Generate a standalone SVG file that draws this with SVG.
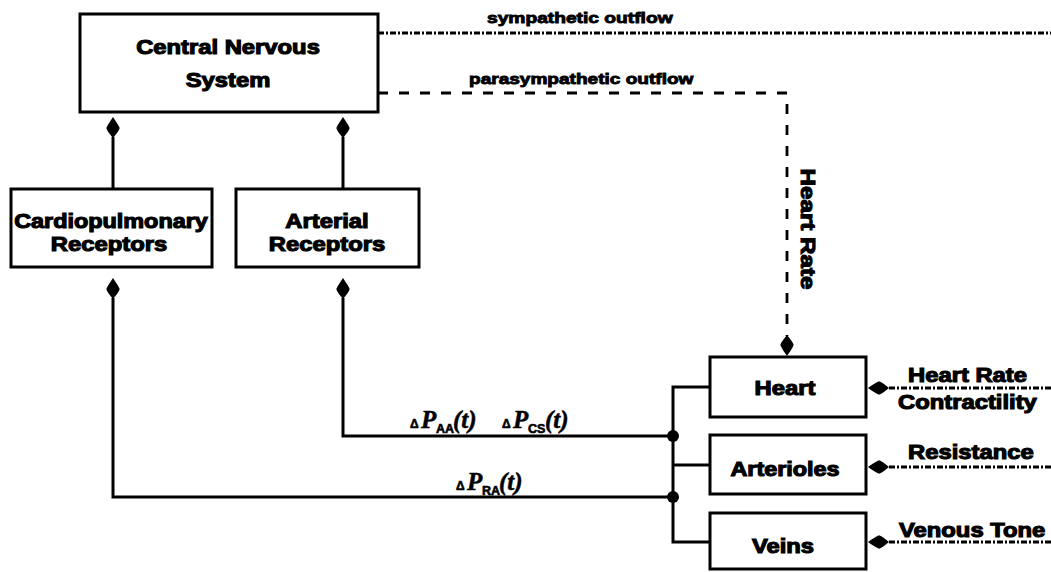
<svg xmlns="http://www.w3.org/2000/svg" width="1051" height="572" viewBox="0 0 1051 572">
<style>
.box{fill:#fff;stroke:#000;stroke-width:3}
.lbl{font-family:"Liberation Sans",Arial,sans-serif;font-weight:bold;font-size:19.5px;fill:#000;stroke:#000;stroke-width:1.1}
.sm{font-family:"Liberation Sans",Arial,sans-serif;font-weight:bold;font-size:15.5px;fill:#000;stroke:#000;stroke-width:0.9}
.wire{fill:none;stroke:#000;stroke-width:3}
.dash{fill:none;stroke:#000;stroke-width:2.8;stroke-dasharray:10 11}
.dashdot{fill:none;stroke:#000;stroke-width:2.8;stroke-dasharray:6 2 2 2}
.delta{font-family:"Liberation Sans",Arial,sans-serif;font-weight:bold;font-size:12px;stroke:#000;stroke-width:0.6}
.pi{font-family:"Liberation Serif","Times New Roman",serif;font-style:italic;font-weight:bold;font-size:25px;stroke:#000;stroke-width:0.5}
.sub{font-family:"Liberation Sans",Arial,sans-serif;font-weight:bold;font-size:12.5px;stroke:#000;stroke-width:0.6}
</style>
<defs>
<marker id="arr" markerUnits="userSpaceOnUse" markerWidth="20" markerHeight="14" viewBox="0 0 20 14" refX="0" refY="7" orient="auto" overflow="visible">
<path d="M-1,7 C3,4 6,1 9,0.3 C13,2 17,5 20,7 C17,9 13,12 9,13.7 C6,13 3,10 -1,7 Z" fill="#000"/>
</marker>
</defs>
<rect width="1051" height="572" fill="#fff"/>

<g id="connectors">
<path class="wire" d="M113,189 V137" marker-end="url(#arr)"/>
<path class="wire" d="M343,189 V137" marker-end="url(#arr)"/>
<path class="wire" d="M673,497 H113 V298" marker-end="url(#arr)"/>
<path class="wire" d="M673,436 H343 V298" marker-end="url(#arr)"/>
<path class="wire" d="M710,387 H673 V542 H710 M673,465 H710"/>
<circle cx="673" cy="436" r="6" fill="#000"/>
<circle cx="673" cy="497" r="6" fill="#000"/>
<path class="dashdot" d="M378,33 H1051"/>
<path class="dash" d="M378,93 H787 V336" marker-end="url(#arr)"/>
<path class="dashdot" d="M1051,388 H888" marker-end="url(#arr)"/>
<path class="dashdot" d="M1051,467 H888" marker-end="url(#arr)"/>
<path class="dashdot" d="M1051,542 H888" marker-end="url(#arr)"/>
<text class="sm" transform="translate(487,23) scale(1.24,1)">sympathetic outflow</text>
<text class="sm" transform="translate(469,84) scale(1.23,1)">parasympathetic outflow</text>
<text class="lbl" transform="translate(801,229) rotate(90) scale(1.24,1)" text-anchor="middle">Heart Rate</text>
<text class="lbl" transform="translate(908,382) scale(1.22,1)">Heart Rate</text>
<text class="lbl" transform="translate(898,409) scale(1.22,1)">Contractility</text>
<text class="lbl" transform="translate(908,459) scale(1.22,1)">Resistance</text>
<text class="lbl" transform="translate(899,537) scale(1.22,1)">Venous Tone</text>
<text y="428"><tspan class="delta" x="410">Δ</tspan><tspan class="pi" x="421">P</tspan><tspan class="sub" x="436" dy="5">AA</tspan><tspan class="pi" x="453" dy="-5">(t)</tspan></text>
<text y="428"><tspan class="delta" x="502">Δ</tspan><tspan class="pi" x="513">P</tspan><tspan class="sub" x="528" dy="5">CS</tspan><tspan class="pi" x="545" dy="-5">(t)</tspan></text>
<text y="490"><tspan class="delta" x="456">Δ</tspan><tspan class="pi" x="467">P</tspan><tspan class="sub" x="482" dy="5">RA</tspan><tspan class="pi" x="499" dy="-5">(t)</tspan></text>
</g>

<g id="node-cns">
<rect class="box" x="80" y="14" width="298" height="98"/>
<text class="lbl" transform="translate(228,54) scale(1.22,1)" text-anchor="middle">Central Nervous</text>
<text class="lbl" transform="translate(228,87) scale(1.22,1)" text-anchor="middle">System</text>
</g>
<g id="node-cardio">
<rect class="box" x="11" y="189" width="201" height="78"/>
<text class="lbl" transform="translate(111,228) scale(1.2,1)" text-anchor="middle">Cardiopulmonary</text>
<text class="lbl" transform="translate(109,251) scale(1.22,1)" text-anchor="middle">Receptors</text>
</g>
<g id="node-arterial">
<rect class="box" x="236" y="189" width="183" height="78"/>
<text class="lbl" transform="translate(327,228) scale(1.22,1)" text-anchor="middle">Arterial</text>
<text class="lbl" transform="translate(327,251) scale(1.22,1)" text-anchor="middle">Receptors</text>
</g>
<g id="node-heart">
<rect class="box" x="710" y="357" width="156" height="60"/>
<text class="lbl" transform="translate(785,395) scale(1.22,1)" text-anchor="middle">Heart</text>
</g>
<g id="node-arterioles">
<rect class="box" x="710" y="435" width="156" height="59"/>
<text class="lbl" transform="translate(785,476) scale(1.2,1)" text-anchor="middle">Arterioles</text>
</g>
<g id="node-veins">
<rect class="box" x="710" y="513" width="156" height="56"/>
<text class="lbl" transform="translate(783,553) scale(1.22,1)" text-anchor="middle">Veins</text>
</g>
</svg>
